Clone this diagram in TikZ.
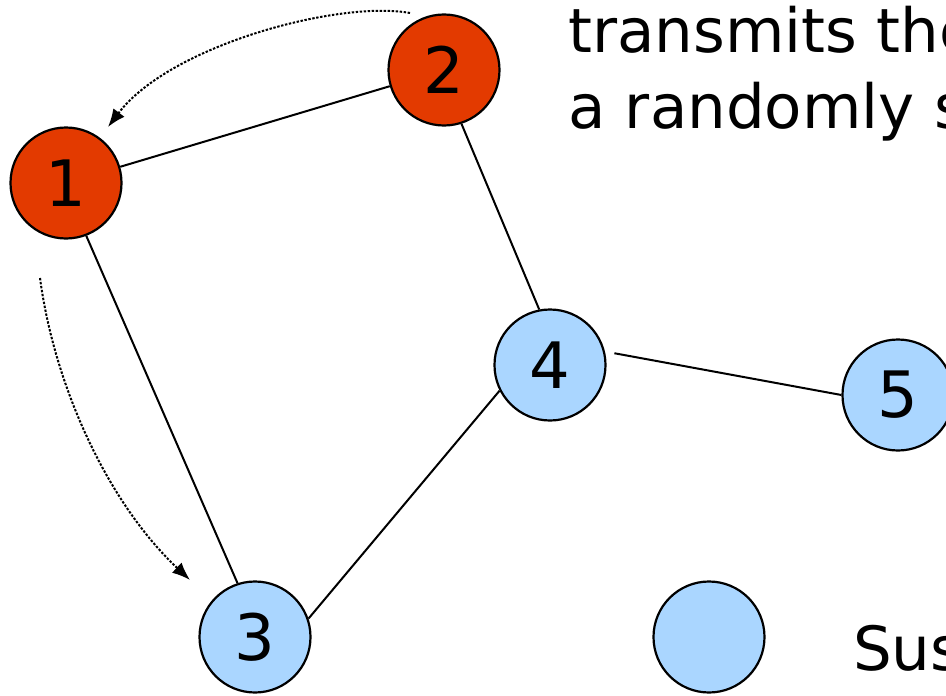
\documentclass[tikz,border=0pt]{standalone}
\usepackage{fontspec}
\setmainfont{DejaVu Sans}
\usetikzlibrary{arrows.meta}
\definecolor{infred}{RGB}{227,58,0}
\definecolor{susblue}{RGB}{170,214,255}
\begin{document}
\begin{tikzpicture}[x=1pt,y=-1pt,
  vnode/.style={circle,draw=black,line width=2.2pt,minimum size=111pt,inner sep=0pt,font=\fontsize{64}{64}\selectfont},
  inf/.style={vnode,fill=infred},
  sus/.style={vnode,fill=susblue},
  edge/.style={line width=2pt},
  gossip/.style={line width=2pt,dash pattern=on 2.4pt off 1.6pt,-{Latex[length=18pt,width=14pt]}},
  lbl/.style={anchor=base west,inner sep=0pt,font=\fontsize{61}{76}\selectfont}]
\clip (0,0) rectangle (946,696);
\fill[white] (0,0) rectangle (946,696);
% nodes
\node[inf] (n1) at (66,183) {1};
\node[inf] (n2) at (444,70) {2};
\node[sus] (n3) at (255,637) {3};
\node[sus] (n4) at (550,365) {4};
\node[sus] (n5) at (898,395) {5};
\node[sus] (leg) at (709,637) {};
% edges
\draw[edge] (n1) -- (n2);
\draw[edge] (n1.291) -- (n3.108);
\draw[edge] (n2.288) -- (n4.101);
\draw[edge] (n3.19) -- (n4.207);
\draw[edge] ([xshift=9pt]n4.12) -- (n5.180);
% gossip arrows
\coordinate (g1s) at (410,13);
\coordinate (g1e) at (108,127);
\coordinate (g2s) at (40,278);
\coordinate (g2e) at (190,580);
\draw[gossip] (g1s) .. controls (340,0) and (170,45) .. (g1e);
\draw[gossip] (g2s) .. controls (55,390) and (110,505) .. (g2e);
% texts
\node[lbl] (t1) at (568,52) {transmits the};
\node[lbl] (t2) at (568,128) {a randomly selected};
\node[lbl] (t3) at (853,670) {Susceptible};
\end{tikzpicture}
\end{document}
